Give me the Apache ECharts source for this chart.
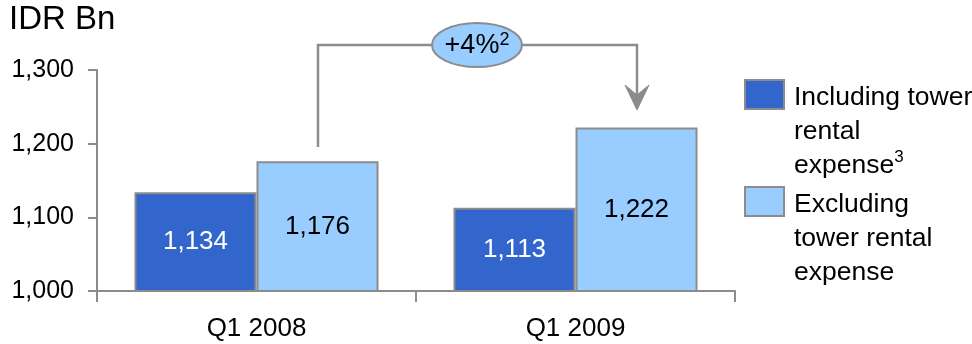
<!DOCTYPE html>
<html>
<head>
<meta charset="utf-8">
<script src="https://cdn.jsdelivr.net/npm/echarts@6/dist/echarts.min.js"></script>
<style>
  html, body { margin: 0; padding: 0; background: #fff; }
  #chart { width: 972px; height: 344px; }
</style>
</head>
<body>
<div id="chart"></div>
<script>
const categories = ['Q1 2008', 'Q1 2009'];
const includingTower = [1134, 1113];
const excludingTower = [1176, 1222];
const yMin = 1000;
const yMax = 1300;
const yStep = 100;

const FONT = '"Liberation Sans", Arial, sans-serif';
const GREY = '#8c8c8c';
const DARK = '#3366cc';
const LIGHT = '#99ccff';

const fmt = (v) => Number(v).toLocaleString('en-US');

const chart = echarts.init(document.getElementById('chart'));

// blank lines (b) keep the icon level with the first text line
const legendRich = {
  b: { fontSize: 10, lineHeight: 37, fontFamily: FONT },
  t: { fontSize: 26.5, lineHeight: 34, color: '#000', fontFamily: FONT, padding: [0, 0, 0, 5] },
  sup: { fontSize: 17, lineHeight: 20, verticalAlign: 'top', color: '#000', fontFamily: FONT }
};

chart.setOption({
  animation: false,
  textStyle: { fontFamily: FONT },
  grid: { left: 97, right: 237, top: 70, bottom: 53 },
  legend: [
    {
      data: ['Including tower rental expense'],
      left: 744,
      top: 20,
      padding: 0,
      icon: 'rect',
      itemWidth: 39,
      itemHeight: 29,
      textStyle: { rich: legendRich },
      formatter: () => '{b| }\n{b| }\n{t|Including tower}\n{t|rental}\n{t|expense}{sup|3}'
    },
    {
      data: ['Excluding tower rental expense'],
      left: 744,
      top: 127,
      padding: 0,
      icon: 'rect',
      itemWidth: 39,
      itemHeight: 29,
      textStyle: { rich: legendRich },
      formatter: () => '{b| }\n{b| }\n{t|Excluding}\n{t|tower rental}\n{t|expense}'
    }
  ],
  xAxis: {
    type: 'category',
    data: categories,
    axisLine: { lineStyle: { color: GREY, width: 2 } },
    axisTick: { show: true, length: 11, interval: 0, lineStyle: { color: GREY, width: 2 } },
    axisLabel: { fontSize: 26, color: '#000', margin: 25, fontFamily: FONT }
  },
  yAxis: {
    type: 'value',
    min: yMin,
    max: yMax,
    interval: yStep,
    axisLine: { show: true, lineStyle: { color: GREY, width: 2 } },
    axisTick: { show: true, length: 9, lineStyle: { color: GREY, width: 2 } },
    splitLine: { show: false },
    axisLabel: { fontSize: 25, color: '#000', margin: 23, fontFamily: FONT, formatter: fmt }
  },
  series: [
    {
      name: 'Including tower rental expense',
      type: 'bar',
      data: includingTower,
      barGap: '0%',
      barCategoryGap: '23.5%',
      itemStyle: { color: DARK, borderColor: GREY, borderWidth: 2 },
      label: {
        show: true,
        position: 'inside',
        fontSize: 26,
        color: '#fff',
        fontFamily: FONT,
        formatter: (p) => fmt(p.value)
      }
    },
    {
      name: 'Excluding tower rental expense',
      type: 'bar',
      data: excludingTower,
      barGap: '0%',
      barCategoryGap: '23.5%',
      itemStyle: { color: LIGHT, borderColor: GREY, borderWidth: 2 },
      label: {
        show: true,
        position: 'inside',
        fontSize: 26,
        color: '#000',
        fontFamily: FONT,
        formatter: (p) => fmt(p.value)
      }
    }
  ],
  graphic: [
    {
      type: 'text',
      left: 9,
      top: 3,
      style: { text: 'IDR Bn', fontSize: 33, fill: '#000', fontFamily: FONT }
    },
    // growth bracket between the two light bars
    {
      type: 'polyline',
      shape: { points: [[318, 147], [318, 45], [637, 45], [637, 100]] },
      style: { stroke: GREY, lineWidth: 2.5, fill: null }
    },
    {
      type: 'polygon',
      shape: { points: [[625, 85], [637, 110], [649, 85], [637, 95]] },
      style: { fill: GREY, stroke: GREY, lineWidth: 1 }
    },
    {
      type: 'ellipse',
      shape: { cx: 477, cy: 45, rx: 45, ry: 22 },
      style: { fill: LIGHT, stroke: GREY, lineWidth: 2 }
    },
    {
      type: 'text',
      x: 477,
      y: 46,
      style: {
        text: '{m|+4%}{s|2}',
        align: 'center',
        verticalAlign: 'middle',
        rich: {
          m: { fontSize: 27, lineHeight: 30, fill: '#000', fontFamily: FONT },
          s: { fontSize: 18, lineHeight: 18, verticalAlign: 'top', fill: '#000', fontFamily: FONT }
        }
      }
    }
  ]
});
</script>
</body>
</html>
